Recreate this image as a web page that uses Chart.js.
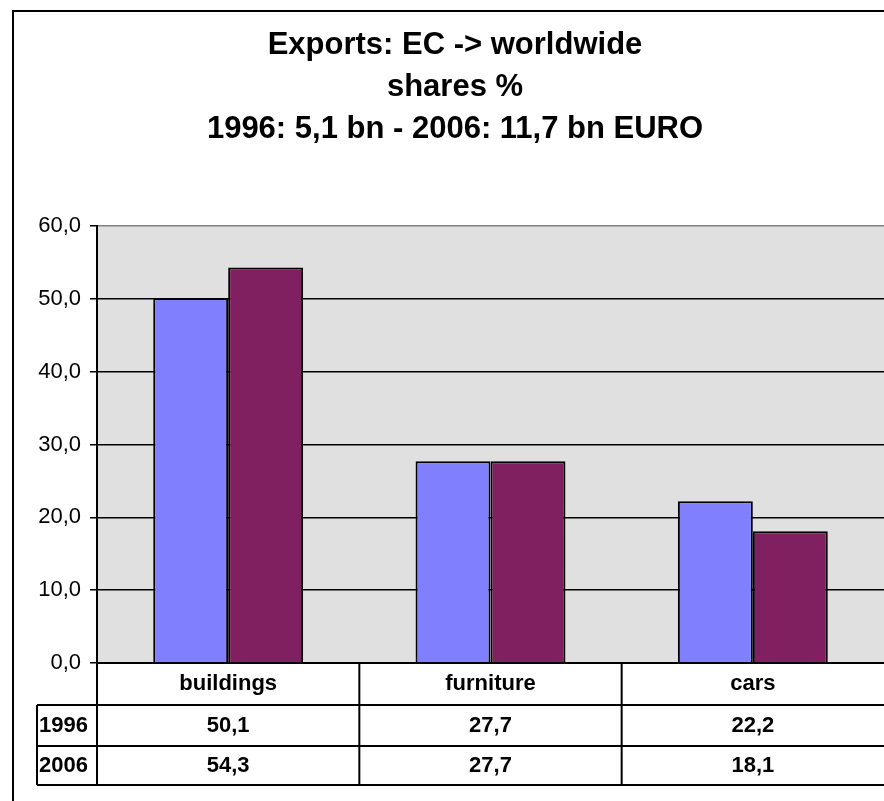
<!DOCTYPE html>
<html>
<head>
<meta charset="utf-8">
<script src="https://cdn.jsdelivr.net/npm/chart.js@4.4.1/dist/chart.umd.min.js"></script>
<style>
  html, body { margin: 0; padding: 0; background: #fff; }
  #wrap { width: 884px; height: 801px; position: relative; }
</style>
</head>
<body>
<div id="wrap"><canvas id="myChart" width="884" height="801"></canvas></div>
<script>
// Data
const categories = ["buildings", "furniture", "cars"];
const seriesNames = ["1996", "2006"];
const values1996 = [50.1, 27.7, 22.2];
const values2006 = [54.3, 27.7, 18.1];
const titleLines = ["Exports: EC -> worldwide", "shares %", "1996: 5,1 bn - 2006: 11,7 bn EURO"];

const FONT = "Arial, 'Liberation Sans', sans-serif";
const fmt = (v) => v.toFixed(1).replace(".", ",");

// Frame, plot background and title
const frame = {
  id: "frame",
  beforeDraw(chart) {
    const { ctx, chartArea: a } = chart;
    ctx.save();
    ctx.fillStyle = "#fff";
    ctx.fillRect(0, 0, chart.width, chart.height);
    ctx.fillStyle = "#E0E0E0";
    ctx.fillRect(a.left, a.top, a.right - a.left, a.bottom - a.top);
    ctx.strokeStyle = "#000";
    ctx.lineWidth = 2;
    ctx.beginPath();
    ctx.moveTo(13, chart.height);
    ctx.lineTo(13, 11);
    ctx.lineTo(chart.width, 11);
    ctx.stroke();

    ctx.fillStyle = "#000";
    ctx.font = "bold 31px " + FONT;
    ctx.textAlign = "center";
    ctx.textBaseline = "middle";
    titleLines.forEach((t, i) => ctx.fillText(t, 455, 45 + i * 42));
    ctx.restore();
  },
};

// Data table under the axis
const dataTable = {
  id: "dataTable",
  afterDraw(chart) {
    const { ctx, chartArea: a } = chart;
    const xs = chart.scales.x;
    const band = (a.right - a.left) / categories.length;
    const y0 = a.bottom, y1 = y0 + 42, y2 = y0 + 83, y3 = y0 + 122;
    const leftCol = 37;
    ctx.save();
    ctx.strokeStyle = "#000";
    ctx.lineWidth = 2;
    ctx.beginPath();
    ctx.moveTo(a.left, y0); ctx.lineTo(chart.width, y0);
    [y1, y2, y3].forEach((y) => { ctx.moveTo(leftCol, y); ctx.lineTo(chart.width, y); });
    ctx.moveTo(leftCol, y1); ctx.lineTo(leftCol, y3);
    for (let i = 0; i < categories.length; i++) {
      const bx = a.left + i * band;
      ctx.moveTo(bx, y0); ctx.lineTo(bx, y3);
    }
    ctx.stroke();

    ctx.fillStyle = "#000";
    ctx.font = "bold 22px " + FONT;
    ctx.textBaseline = "middle";
    ctx.textAlign = "center";
    categories.forEach((c, i) => {
      const cx = xs.getPixelForValue(i);
      ctx.fillText(c, cx, (y0 + y1) / 2);
      ctx.fillText(fmt(values1996[i]), cx, (y1 + y2) / 2);
      ctx.fillText(fmt(values2006[i]), cx, (y2 + y3) / 2);
    });
    ctx.textAlign = "left";
    ctx.fillText(seriesNames[0], leftCol + 2, (y1 + y2) / 2);
    ctx.fillText(seriesNames[1], leftCol + 2, (y2 + y3) / 2);
    ctx.restore();
  },
};

const ctx = document.getElementById("myChart").getContext("2d");
new Chart(ctx, {
  type: "bar",
  data: {
    labels: categories,
    datasets: [
      {
        label: seriesNames[0],
        data: values1996,
        backgroundColor: "#8080FF",
        borderColor: "#000",
        borderWidth: 2,
      },
      {
        label: seriesNames[1],
        data: values2006,
        backgroundColor: "#802060",
        borderColor: "#000",
        borderWidth: 2,
      },
    ],
  },
  options: {
    responsive: false,
    animation: false,
    datasets: { bar: { categoryPercentage: 1 / 1.75, barPercentage: 1 } },
    layout: { padding: { top: 226, bottom: 138, left: 0, right: 0 } },
    plugins: {
      legend: { display: false },
      tooltip: { enabled: false },
      title: { display: false },
    },
    scales: {
      x: { display: false },
      y: {
        min: 0,
        max: 60,
        afterFit: (s) => { s.width = 97; },
        ticks: {
          stepSize: 10,
          padding: 9,
          color: "#000",
          font: { family: FONT, size: 22 },
          callback: (v) => fmt(v),
        },
        grid: {
          color: (c) => (c.tick && c.tick.value === 60 ? "#808080" : "#000"),
          lineWidth: 1.5,
          tickLength: 7,
          tickColor: "#000",
        },
        border: { color: "#000", width: 2 },
      },
    },
  },
  plugins: [frame, dataTable],
});
</script>
</body>
</html>
